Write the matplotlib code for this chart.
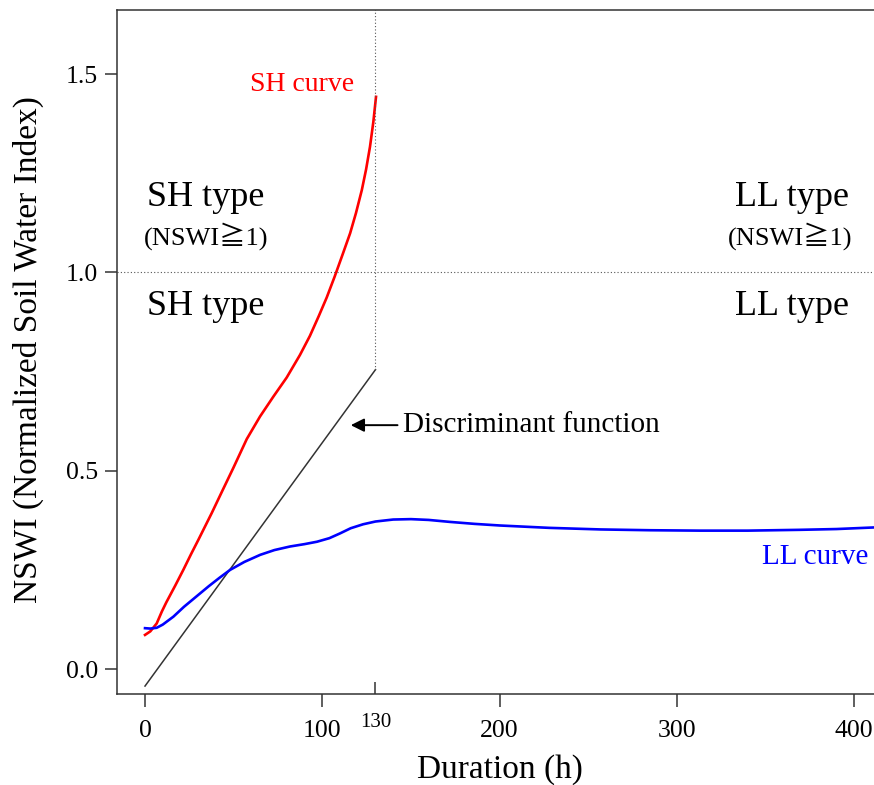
import numpy as np
import matplotlib.pyplot as plt

plt.rcParams['font.family'] = ['Liberation Serif', 'Noto Sans CJK JP', 'DejaVu Sans']

## curves
sh_hours = [0, 3, 6.6, 9.5, 12, 17, 21.6, 26, 30, 37.6, 44, 49.8, 57.4, 64.9, 72.4, 79.9,
            87.4, 93, 98, 102.5, 107, 111.5, 115.7, 119, 122.3, 124.7, 126.9, 128.8, 130.3]
sh_nswi = [0.086, 0.095, 0.115, 0.145, 0.168, 0.21, 0.25, 0.29, 0.325, 0.393, 0.453, 0.507,
           0.58, 0.637, 0.687, 0.735, 0.792, 0.84, 0.89, 0.937, 0.99, 1.046, 1.099, 1.15,
           1.208, 1.26, 1.317, 1.38, 1.443]

ll_hours = [0, 3, 6.6, 10, 16, 22, 29, 36, 42, 48, 56, 65, 73, 81.8, 90, 97, 104, 110,
            116, 123, 130, 140, 150, 160, 172, 186, 200, 228, 257, 285, 313, 340, 369, 390, 411]
ll_nswi = [0.103, 0.102, 0.104, 0.112, 0.132, 0.157, 0.183, 0.209, 0.230, 0.250, 0.270,
           0.288, 0.300, 0.309, 0.315, 0.321, 0.330, 0.342, 0.355, 0.365, 0.372, 0.377,
           0.378, 0.376, 0.371, 0.366, 0.362, 0.356, 0.352, 0.350, 0.349, 0.349, 0.351,
           0.353, 0.357]

disc_hours = [0, 130]
disc_nswi = [-0.043, 0.755]

x_ticks = [0, 100, 200, 300, 400]
y_ticks = [0.0, 0.5, 1.0, 1.5]
y_tick_labels = ['0.0', '0.5', '1.0', '1.5']
threshold_hours = 130

fig = plt.figure(figsize=(8.74, 7.85), dpi=100)
ax = fig.add_axes([117 / 874, 91 / 785, 757 / 874, 684 / 785])

ax.plot(disc_hours, disc_nswi, color='#333333', lw=1.1)
ax.plot(sh_hours, sh_nswi, color='#ff0000', lw=1.9)
ax.plot(ll_hours, ll_nswi, color='#0000ff', lw=1.9)

## dotted guides
ax.axhline(1.0, color='#555555', lw=0.8, ls=(0, (1, 2)))
ax.plot([threshold_hours, threshold_hours], [disc_nswi[1], 1.7], color='#555555',
        lw=0.8, ls=(0, (1, 2)))

ax.set_xlim(-15.8, 411.2)
ax.set_ylim(-0.063, 1.662)

ax.spines['right'].set_visible(False)
for s in ['left', 'bottom', 'top']:
    ax.spines[s].set_color('#333333')
    ax.spines[s].set_linewidth(1.1)

ax.set_xticks(x_ticks)
ax.set_xticks([threshold_hours], minor=True)
ax.set_xticklabels(['130'], minor=True)
ax.set_yticks(y_ticks)
ax.set_yticklabels(y_tick_labels)
ax.tick_params(axis='both', which='major', direction='out', length=9, width=1.1,
               color='#333333', labelsize=18.5)
ax.tick_params(axis='x', which='major', pad=10)
ax.tick_params(axis='y', which='major', pad=4.5)
ax.tick_params(axis='x', which='minor', direction='in', length=9, width=1.1,
               color='#333333', labelsize=15, pad=14)

## region labels
ax.text(34.4, 1.188, 'SH type', fontsize=26, ha='center', va='center')
ax.text(34.4, 1.092, '(NSWI≧1)', fontsize=19, ha='center', va='center')
ax.text(34.4, 0.9155, 'SH type', fontsize=26, ha='center', va='center')
ax.text(365, 1.188, 'LL type', fontsize=26, ha='center', va='center')
ax.text(364, 1.092, '(NSWI≧1)', fontsize=19, ha='center', va='center')
ax.text(365, 0.9155, 'LL type', fontsize=26, ha='center', va='center')

ax.text(88.6, 1.473, 'SH curve', fontsize=20, color='#ff0000', ha='center', va='center')
ax.text(378, 0.2825, 'LL curve', fontsize=21, color='#0000ff', ha='center', va='center')

ax.annotate('', xy=(114.5, 0.615), xytext=(144, 0.615),
            arrowprops=dict(arrowstyle='-|>', color='black', lw=1.4,
                            mutation_scale=20))
ax.text(145.6, 0.615, 'Discriminant function', fontsize=21, ha='left', va='center')

fig.text(500 / 874, 1 - 770 / 785, 'Duration (h)', fontsize=24, ha='center', va='center')
fig.text(28 / 874, 1 - 350 / 785, 'NSWI (Normalized Soil Water Index)', fontsize=24,
         ha='center', va='center', rotation=90)

fig.savefig('out.png', dpi=100)
